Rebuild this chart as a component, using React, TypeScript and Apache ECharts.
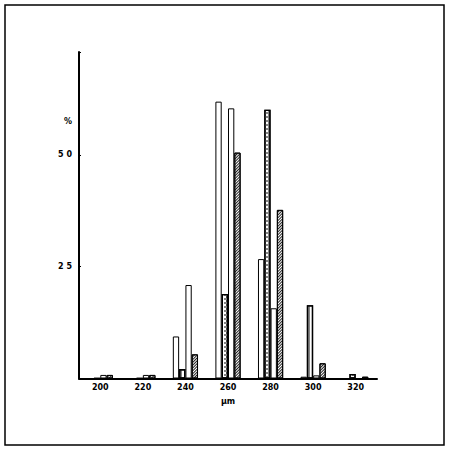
import React, { useEffect, useRef } from "react";
import * as echarts from "echarts";

const categories = ["200", "220", "240", "260", "280", "300", "320"];
const whiteA = [0, 0, 9.4, 61.9, 26.7, 0.4, 0];
const dotted = [0, 0, 2.1, 18.9, 60.1, 16.4, 1.0];
const whiteB = [0.8, 0.8, 20.9, 60.4, 15.7, 0.7, 0];
const hatched = [0.8, 0.8, 5.4, 50.5, 37.7, 3.4, 0.4];
const yTicks = [25, 50];

export default function App() {
  const ref = useRef<HTMLDivElement>(null);
  useEffect(() => {
    document.body.style.margin = "0";
    const chart = echarts.init(ref.current!, null, { renderer: "svg" });
    const font = { fontFamily: "DejaVu Sans", fontWeight: "bold" as const, fontSize: 8, color: "#000" };
    const barBase = { type: "bar" as const, barWidth: 6.3, barGap: "0%" };
    chart.setOption({
      animation: false,
      backgroundColor: "#fff",
      grid: { left: 79, top: 52, width: 298, height: 326.5 },
      xAxis: {
        type: "category",
        data: categories,
        boundaryGap: true,
        axisLine: { lineStyle: { color: "#000", width: 2 } },
        axisTick: { inside: true, length: 3, lineStyle: { color: "#000", width: 1 } },
        axisLabel: { ...font, margin: 5 },
        name: "µm",
        nameLocation: "middle",
        nameGap: 19,
        nameTextStyle: { ...font },
        splitLine: { show: false },
      },
      yAxis: {
        type: "value",
        min: 0,
        max: 73,
        interval: 25,
        name: "%",
        nameLocation: "end",
        nameGap: -69,
        nameTextStyle: { ...font, align: "right", padding: [0, 7, 0, 0], verticalAlign: "middle" },
        axisLine: { show: true, lineStyle: { color: "#000", width: 2 } },
        axisTick: { show: true, inside: true, length: 2, lineStyle: { color: "#000", width: 1 } },
        axisLabel: {
          ...font,
          margin: 7,
          formatter: (v: number) => (yTicks.includes(v) ? String(v).split("").join(" ") : ""),
        },
        splitLine: { show: false },
      },
      graphic: [
        {
          type: "rect",
          shape: { x: 5, y: 5, width: 439, height: 440 },
          style: { fill: "none", stroke: "#000", lineWidth: 1.5 },
          silent: true,
        },
      ],
      series: [
        {
          ...barBase,
          name: "A",
          data: whiteA,
          itemStyle: { color: "#fff", borderColor: "#000", borderWidth: 1 },
        },
        {
          ...barBase,
          name: "B",
          data: dotted,
          itemStyle: {
            color: "#fff",
            borderColor: "#000",
            borderWidth: 1.3,
            decal: {
              symbol: "rect",
              color: "#333",
              symbolSize: 0.8,
              dashArrayX: [[1.6, 1.6], [0, 1.6, 1.6]],
              dashArrayY: [1.6, 0],
              rotation: 0,
            },
          },
        },
        {
          ...barBase,
          name: "C",
          data: whiteB,
          itemStyle: { color: "#fff", borderColor: "#000", borderWidth: 1 },
        },
        {
          ...barBase,
          name: "D",
          data: hatched,
          itemStyle: {
            color: "#fff",
            borderColor: "#000",
            borderWidth: 1,
            decal: {
              symbol: "rect",
              color: "#222",
              symbolSize: 1,
              dashArrayX: [1, 0],
              dashArrayY: [0.9, 0.9],
              rotation: -Math.PI / 4,
            },
          },
        },
      ],
    });
    return () => chart.dispose();
  }, []);
  return <div ref={ref} style={{ width: 450, height: 452 }} />;
}
